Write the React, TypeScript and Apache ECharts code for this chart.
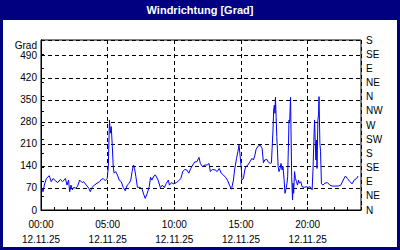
import React, { useEffect, useRef } from "react";
import * as echarts from "echarts";

const TITLE = "Windrichtung [Grad]";
const DATE_LABEL = "12.11.25";
const DIRECTIONS = ["N", "NE", "E", "SE", "S", "SW", "W", "NW", "N", "NE", "E", "SE", "S"];

// minutes after 00:00
const timesMin = [
  5, 9, 15, 24, 37, 46, 54, 65, 75, 87, 97, 110, 117, 124, 129, 135, 141, 147, 156, 165,
  174, 185, 192, 204, 215, 222, 230, 240, 252, 264, 271, 280, 289, 298, 303, 308, 312, 316, 321, 325,
  329, 336, 344, 352, 361, 370, 379, 388, 397, 404, 410, 416, 421, 427, 434, 446, 455, 463, 469, 478,
  487, 493, 499, 508, 515, 527, 537, 546, 555, 564, 573, 578, 587, 598, 609, 620, 629, 638, 647, 656,
  665, 674, 683, 692, 701, 711, 717, 726, 738, 748, 756, 762, 771, 784, 793, 802, 811, 821, 830, 839,
  848, 857, 859, 866, 871, 880, 886, 891, 895, 902, 904, 911, 917, 922, 931, 940, 949, 956, 962, 968,
  977, 986, 995, 1001, 1007, 1016, 1022, 1031, 1037, 1040, 1044, 1047, 1050, 1053, 1055, 1058, 1061, 1064, 1067, 1071,
  1076, 1080, 1085, 1089, 1094, 1098, 1103, 1107, 1110, 1114, 1116, 1119, 1123, 1125, 1128, 1132, 1134, 1137, 1141, 1145,
  1150, 1154, 1159, 1163, 1169, 1175, 1184, 1193, 1202, 1211, 1220, 1224, 1228, 1231, 1233, 1237, 1240, 1242, 1246, 1249,
  1251, 1255, 1258, 1262, 1269, 1277, 1289, 1300, 1310, 1322, 1337, 1349, 1360, 1370, 1379, 1390, 1400, 1409, 1420, 1427,
];

const windDeg = [
  69, 58, 79, 100, 109, 90, 100, 93, 87, 97, 90, 100, 79, 95, 58, 79, 64, 72, 69, 76,
  95, 87, 90, 79, 69, 58, 72, 79, 85, 90, 97, 100, 93, 100, 138, 286, 244, 265, 201, 138,
  117, 122, 111, 95, 90, 72, 61, 79, 85, 95, 122, 143, 132, 106, 72, 72, 66, 48, 37, 53,
  74, 104, 95, 108, 111, 95, 71, 79, 71, 85, 95, 79, 87, 83, 87, 93, 100, 122, 129, 127,
  117, 132, 143, 153, 153, 167, 148, 138, 143, 143, 148, 122, 129, 127, 122, 132, 117, 111, 104, 95,
  79, 66, 72, 95, 127, 164, 185, 206, 180, 127, 95, 100, 127, 138, 143, 153, 164, 159, 172, 193,
  203, 206, 196, 150, 159, 161, 153, 148, 150, 196, 254, 318, 333, 307, 358, 296, 233, 191, 138, 122,
  132, 148, 127, 138, 95, 53, 69, 85, 106, 222, 286, 280, 358, 254, 106, 32, 85, 53, 122, 100,
  90, 79, 95, 85, 90, 74, 72, 74, 72, 74, 64, 127, 222, 286, 244, 159, 222, 132, 286, 302,
  360, 212, 185, 83, 79, 85, 87, 79, 76, 76, 76, 79, 95, 108, 100, 90, 83, 95, 100, 108,
];

const FONT = "'Liberation Sans', Arial, sans-serif";
const NAVY = "#000080";

export default function App() {
  const ref = useRef<HTMLDivElement>(null);

  useEffect(() => {
    if (!ref.current) return;
    const chart = echarts.init(ref.current, undefined, { renderer: "svg" });
    const data = timesMin.map((t, i) => [t, windDeg[i]]);
    const pad = (n: number) => (n < 10 ? "0" + n : "" + n);

    chart.setOption({
      animation: false,
      backgroundColor: "#ffffff",
      grid: {
        left: 41,
        right: 39,
        top: 40,
        bottom: 40,
        show: true,
        borderColor: "#000",
        borderWidth: 1,
        containLabel: false,
      },
      xAxis: [
        {
          type: "value",
          min: 0,
          max: 1440,
          interval: 300,
          position: "bottom",
          axisLine: { show: true, lineStyle: { color: "#000", width: 1 } },
          axisTick: { show: false },
          splitLine: { show: true, lineStyle: { color: "#000", type: [4, 3], width: 1 } },
          axisLabel: {
            color: "#000",
            fontSize: 10,
            fontFamily: FONT,
            lineHeight: 15,
            margin: 7,
            formatter: (v: number) =>
              v > 1200 ? "" : pad(Math.floor(v / 60)) + ":" + pad(v % 60) + "\n" + DATE_LABEL,
          },
        },
        {
          type: "value",
          min: 0,
          max: 1440,
          interval: 60,
          position: "bottom",
          axisLine: { show: false },
          axisTick: { show: true, inside: true, length: 3, lineStyle: { color: "#000" } },
          axisLabel: { show: false },
          splitLine: { show: false },
        },
      ],
      yAxis: [
        {
          type: "value",
          min: 0,
          max: 540,
          interval: 70,
          position: "left",
          axisLine: { show: true, lineStyle: { color: "#000", width: 1 } },
          axisTick: { show: false },
          splitLine: { show: true, lineStyle: { color: "#000", type: [4, 3], width: 1 } },
          axisLabel: {
            color: "#000",
            fontSize: 10,
            fontFamily: FONT,
            margin: 4,
            formatter: (v: number) => (v > 490 ? "" : String(v)),
          },
        },
        {
          type: "value",
          min: 0,
          max: 540,
          interval: 45,
          position: "right",
          axisLine: { show: true, lineStyle: { color: "#000", width: 1 } },
          axisTick: { show: true, length: 3, lineStyle: { color: "#000" } },
          splitLine: { show: false },
          axisLabel: {
            color: "#000",
            fontSize: 10,
            fontFamily: FONT,
            margin: 5,
            formatter: (v: number) => DIRECTIONS[Math.round(v / 45)] ?? "",
          },
        },
      ],
      graphic: [
        {
          type: "rect",
          shape: { x: 0, y: 0, width: 400, height: 20 },
          style: { fill: NAVY },
          z: 10,
        },
        {
          type: "text",
          x: 200,
          y: 10,
          style: {
            text: TITLE,
            fill: "#ffffff",
            font: "bold 11px " + FONT,
            align: "center",
            verticalAlign: "middle",
          },
          z: 11,
        },
        {
          type: "rect",
          shape: { x: 1.5, y: 1.5, width: 397, height: 247 },
          style: { fill: "none", stroke: NAVY, lineWidth: 3 },
          z: 10,
        },
        {
          type: "text",
          x: 37,
          y: 45,
          style: {
            text: "Grad",
            fill: "#000",
            font: "10px " + FONT,
            align: "right",
            verticalAlign: "middle",
          },
        },
      ],
      series: [
        {
          type: "line",
          xAxisIndex: 0,
          yAxisIndex: 0,
          data,
          showSymbol: false,
          symbol: "none",
          lineStyle: { color: "#0000ff", width: 1 },
          z: 5,
        },
      ],
    });

    return () => chart.dispose();
  }, []);

  return (
    <div
      ref={ref}
      style={{ position: "fixed", left: 0, top: 0, width: 400, height: 250 }}
    />
  );
}
